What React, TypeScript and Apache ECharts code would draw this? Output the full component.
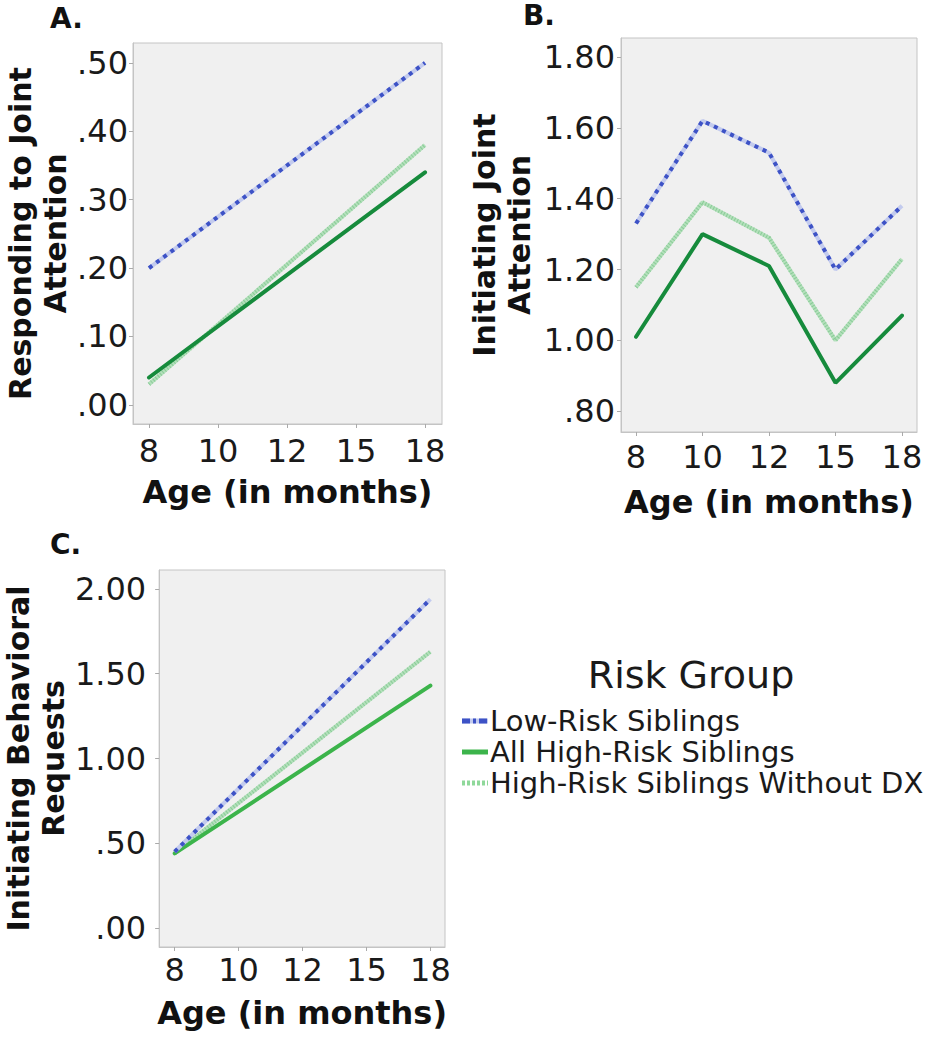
import React, { useEffect, useRef } from "react";
import * as echarts from "echarts";

// ---------- data ----------
const ageLabels = ["8", "10", "12", "15", "18"];
const groupNames = ["Low-Risk Siblings", "All High-Risk Siblings", "High-Risk Siblings Without DX"];

// A. Responding to Joint Attention (straight fitted lines: values at 8 and 18 months)
const rjaLow = [0.20, null, null, null, 0.50];
const rjaHigh = [0.04, null, null, null, 0.34];
const rjaNoDx = [0.03, null, null, null, 0.38];
const rjaTicks = [0, 0.1, 0.2, 0.3, 0.4, 0.5];

// B. Initiating Joint Attention
const ijaLow = [1.33, 1.62, 1.53, 1.20, 1.38];
const ijaHigh = [1.01, 1.30, 1.21, 0.88, 1.07];
const ijaNoDx = [1.15, 1.39, 1.29, 1.00, 1.23];
const ijaTicks = [0.8, 1.0, 1.2, 1.4, 1.6, 1.8];

// C. Initiating Behavioral Requests (straight fitted lines)
const ibrLow = [0.45, null, null, null, 1.94];
const ibrHigh = [0.44, null, null, null, 1.43];
const ibrNoDx = [0.44, null, null, null, 1.63];
const ibrTicks = [0, 0.5, 1.0, 1.5, 2.0];

const xTicks = [0, 1, 2, 3, 4];

const FONT = '"DejaVu Sans", Verdana, sans-serif';
const BLUE = "#3d52c6";
const BLUE_HALO = "#c3cbee";
const DARK_GREEN = "#168b3c";
const BRIGHT_GREEN = "#3cb44b";
const PALE_GREEN = "#b3e0bb";
const PALE_GREEN_DOT = "#7fc78f";

const toPairs = (vals: (number | null)[]) =>
  vals.map((v, i) => [i, v]).filter((p) => p[1] !== null);

const fmtY = (v: number) => {
  const s = (Math.round(v * 100) / 100).toFixed(2);
  return s.startsWith("0.") ? s.slice(1) : s;
};

function panelSeries(k: number, low: (number | null)[], high: (number | null)[], noDx: (number | null)[], highColor: string) {
  const base = { type: "line", xAxisIndex: k, yAxisIndex: k, symbol: "none", silent: true, animation: false };
  return [
    { ...base, name: groupNames[2] + " halo", data: toPairs(noDx), lineStyle: { color: PALE_GREEN, width: 4, cap: "butt" }, z: 2 },
    { ...base, name: groupNames[2], data: toPairs(noDx), lineStyle: { color: PALE_GREEN_DOT, width: 4, type: [1, 2], cap: "butt", opacity: 0.8 }, z: 3 },
    { ...base, name: groupNames[1], data: toPairs(high), lineStyle: { color: highColor, width: 4, cap: "round" }, z: 4 },
    { ...base, name: groupNames[0] + " halo", data: toPairs(low), lineStyle: { color: BLUE_HALO, width: 4, cap: "butt" }, z: 5 },
    { ...base, name: groupNames[0], data: toPairs(low), lineStyle: { color: BLUE, width: 4, type: [4, 5], cap: "butt" }, z: 6 },
  ];
}

function xAxisFor(k: number, min: number, max: number, labelMargin: number, nameGap: number) {
  return {
    type: "value",
    gridIndex: k,
    min,
    max,
    name: "Age (in months)",
    nameLocation: "middle",
    nameGap,
    nameTextStyle: { fontFamily: FONT, fontSize: 32, fontWeight: "bold", color: "#111" },
    axisLine: { show: true, onZero: false, lineStyle: { color: "#c4c4c4", width: 1 } },
    axisTick: { show: true, customValues: xTicks, length: 4, lineStyle: { color: "#aaaaaa" } },
    axisLabel: {
      show: true,
      customValues: xTicks,
      margin: labelMargin,
      fontFamily: FONT,
      fontSize: 32,
      color: "#1a1a1a",
      formatter: (v: number) => ageLabels[Math.round(v)],
    },
    splitLine: { show: false },
  };
}

function yAxisFor(k: number, min: number, max: number, ticks: number[], labelMargin: number, name: string, nameGap: number) {
  return {
    type: "value",
    gridIndex: k,
    min,
    max,
    name,
    nameLocation: "middle",
    nameRotate: 90,
    nameGap,
    nameTextStyle: { fontFamily: FONT, fontSize: 30, fontWeight: "bold", color: "#111", lineHeight: 35 },
    axisLine: { show: true, onZero: false, lineStyle: { color: "#c4c4c4", width: 1 } },
    axisTick: { show: true, customValues: ticks, length: 4, lineStyle: { color: "#aaaaaa" } },
    axisLabel: {
      show: true,
      customValues: ticks,
      margin: labelMargin,
      fontFamily: FONT,
      fontSize: 32,
      color: "#1a1a1a",
      formatter: (v: number) => fmtY(v),
    },
    splitLine: { show: false },
  };
}

export default function App() {
  const ref = useRef<HTMLDivElement>(null);

  useEffect(() => {
    if (!ref.current) return;
    const chart = echarts.init(ref.current, null, { renderer: "svg" });

    const gridStyle = { show: true, backgroundColor: "#f0f0f0", borderColor: "#c4c4c4", borderWidth: 1, containLabel: false };

    const legendX = 462;
    const legendRows = [721, 752, 783];

    const option: any = {
      animation: false,
      backgroundColor: "#ffffff",
      grid: [
        { ...gridStyle, left: 133, top: 43, width: 309, height: 381 },
        { ...gridStyle, left: 621, top: 38, width: 296, height: 394 },
        { ...gridStyle, left: 151, top: 570, width: 294, height: 377 },
      ],
      xAxis: [
        xAxisFor(0, -0.232, 4.246, 11, 52),
        xAxisFor(1, -0.226, 4.226, 9, 54),
        xAxisFor(2, -0.243, 4.228, 7, 50),
      ],
      yAxis: [
        yAxisFor(0, -0.028, 0.529, rjaTicks, 5, "Responding to Joint\nAttention", 58),
        yAxisFor(1, 0.741, 1.854, ijaTicks, 6, "Initiating Joint\nAttention", 84),
        yAxisFor(2, -0.112, 2.112, ibrTicks, 13, "Initiating Behavioral\nRequests", 86),
      ],
      series: [
        ...panelSeries(0, rjaLow, rjaHigh, rjaNoDx, DARK_GREEN),
        ...panelSeries(1, ijaLow, ijaHigh, ijaNoDx, DARK_GREEN),
        ...panelSeries(2, ibrLow, ibrHigh, ibrNoDx, BRIGHT_GREEN),
      ],
      graphic: [
        { type: "text", left: 50, top: 4, style: { text: "A.", fontFamily: FONT, fontSize: 28, fontWeight: "bold", fill: "#111" } },
        { type: "text", left: 523, top: 1, style: { text: "B.", fontFamily: FONT, fontSize: 28, fontWeight: "bold", fill: "#111" } },
        { type: "text", left: 50, top: 530, style: { text: "C.", fontFamily: FONT, fontSize: 28, fontWeight: "bold", fill: "#111" } },
        {
          type: "text",
          x: 691,
          y: 675,
          style: { text: "Risk Group", fontFamily: FONT, fontSize: 38, fill: "#1a1a1a", align: "center", verticalAlign: "middle" },
        },
        // legend symbol: low risk (blue dash-dot on pale halo)
        { type: "line", shape: { x1: legendX, y1: legendRows[0], x2: legendX + 26, y2: legendRows[0] }, style: { stroke: BLUE_HALO, lineWidth: 5 } },
        { type: "line", shape: { x1: legendX, y1: legendRows[0], x2: legendX + 26, y2: legendRows[0] }, style: { stroke: BLUE, lineWidth: 5, lineDash: [8, 3, 3, 3, 8, 1] } },
        // all high-risk (solid green)
        { type: "line", shape: { x1: legendX, y1: legendRows[1], x2: legendX + 26, y2: legendRows[1] }, style: { stroke: BRIGHT_GREEN, lineWidth: 5 } },
        // without dx (pale dotted green)
        { type: "line", shape: { x1: legendX, y1: legendRows[2], x2: legendX + 26, y2: legendRows[2] }, style: { stroke: "#8fd89a", lineWidth: 5, lineDash: [3, 2] } },
        ...groupNames.map((g, i) => ({
          type: "text",
          x: 490,
          y: legendRows[i],
          style: { text: g, fontFamily: FONT, fontSize: 29, fill: "#1a1a1a", align: "left", verticalAlign: "middle" },
        })),
      ],
    };

    chart.setOption(option);
    return () => chart.dispose();
  }, []);

  return (
    <div
      ref={ref}
      style={{ position: "fixed", left: 0, top: 0, width: 927, height: 1050, background: "#fff" }}
    />
  );
}
